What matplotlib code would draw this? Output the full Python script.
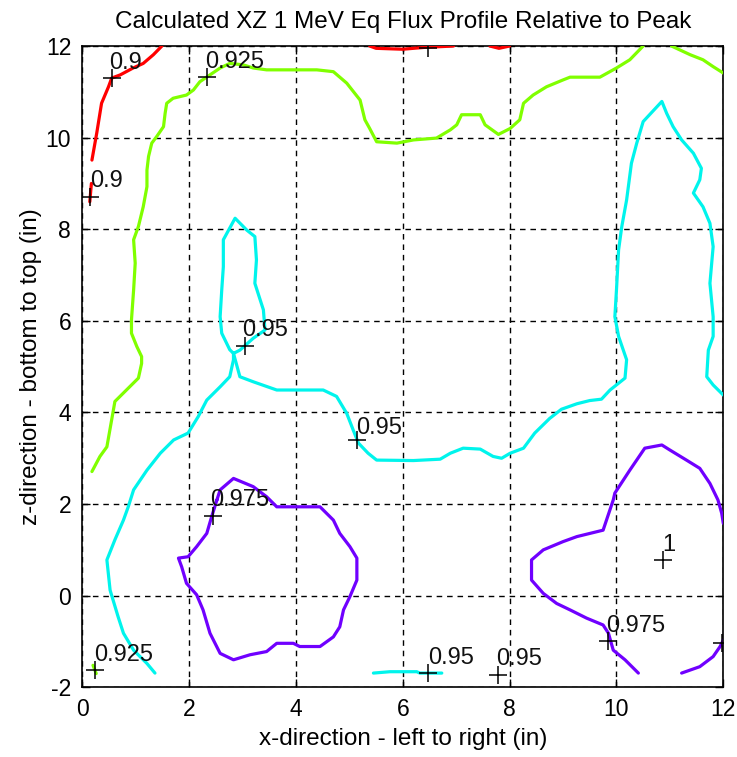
import numpy as np
import matplotlib.pyplot as plt

plt.rcParams['font.family'] = ['Liberation Sans', 'DejaVu Sans']
plt.rcParams['axes.unicode_minus'] = False

# contour level colours (hsv map over 0.9 .. 1.0)
level_colors = {0.9: '#ff0000', 0.925: '#80ff00', 0.95: '#00f4ec', 0.975: '#7000ff'}

# ---- contour traces (x, z in inches) ----
red_left = [(0.18, 9.51), (0.27, 10.10), (0.36, 10.75), (0.49, 11.11), (0.55, 11.30),
            (0.71, 11.37), (0.95, 11.52), (1.14, 11.62), (1.33, 11.81), (1.49, 12.0)]
red_dot = [(0.14, 8.60), (0.17, 9.0)]
red_top1 = [(5.38, 12.0), (5.5, 11.95), (6.0, 11.93), (6.4, 11.97), (6.95, 12.0)]
red_top2 = [(7.63, 12.0), (7.8, 11.95), (8.0, 12.0)]

green_main = [(0.18, 2.71), (0.33, 3.04), (0.46, 3.25), (0.61, 4.24), (1.05, 4.75),
              (1.11, 5.07), (1.11, 5.22), (1.02, 5.44), (0.92, 5.73), (0.92, 6.02),
              (0.96, 6.67), (0.99, 7.26), (0.96, 7.77), (1.05, 8.06), (1.14, 8.49),
              (1.21, 8.93), (1.21, 9.29), (1.24, 9.59), (1.30, 9.88), (1.39, 10.02),
              (1.52, 10.24), (1.55, 10.53), (1.58, 10.75), (1.70, 10.86), (1.95, 10.93),
              (2.08, 11.04), (2.20, 11.22), (2.39, 11.37), (2.58, 11.52), (2.76, 11.62),
              (3.01, 11.59), (3.20, 11.52), (3.45, 11.48), (4.39, 11.48), (4.70, 11.44),
              (4.95, 11.19), (5.20, 10.82), (5.29, 10.39), (5.38, 10.20), (5.51, 9.91),
              (5.89, 9.88), (6.20, 9.95), (6.63, 9.99), (6.89, 10.17), (7.01, 10.28),
              (7.10, 10.50), (7.45, 10.50), (7.54, 10.28), (7.79, 10.07), (8.01, 10.20),
              (8.19, 10.39), (8.26, 10.75), (8.44, 10.93), (8.69, 11.11), (9.00, 11.26),
              (9.13, 11.32), (9.69, 11.32), (10.00, 11.52), (10.25, 11.70), (10.50, 12.0)]
green_corner = [(11.03, 12.0), (11.38, 11.81), (11.62, 11.70), (11.81, 11.55), (12.0, 11.41)]
green_dot = [(0.20, -1.52), (0.26, -1.70)]

cyan_lower = [(1.36, -1.69), (1.21, -1.48), (0.96, -1.19), (0.77, -0.82), (0.67, -0.46),
              (0.52, 0.12), (0.46, 0.78), (0.61, 1.22), (0.77, 1.65), (0.86, 1.94),
              (0.96, 2.31), (1.21, 2.74), (1.46, 3.11), (1.71, 3.40), (1.98, 3.55),
              (2.17, 3.91), (2.33, 4.27), (2.58, 4.56), (2.76, 4.78), (2.83, 5.15),
              (2.83, 5.29)]
cyan_loop = [(2.83, 5.29), (2.76, 5.37), (2.61, 5.73), (2.58, 6.09), (2.61, 6.67),
             (2.64, 7.18), (2.64, 7.77), (2.86, 8.24), (3.08, 7.98), (3.23, 7.84),
             (3.26, 7.33), (3.23, 6.82), (3.39, 6.24), (3.42, 5.80), (3.20, 5.62),
             (2.95, 5.36), (2.83, 5.29)]
cyan_right = [(2.83, 5.29), (2.95, 4.78), (3.20, 4.67), (3.64, 4.49), (4.51, 4.49),
              (4.76, 4.35), (4.95, 3.98), (5.07, 3.62), (5.17, 3.33), (5.35, 3.11),
              (5.51, 2.96), (6.20, 2.95), (6.70, 2.98), (6.89, 3.11), (7.13, 3.22),
              (7.45, 3.20), (7.69, 3.04), (7.85, 3.00), (8.01, 3.11), (8.26, 3.22),
              (8.47, 3.55), (8.75, 3.87), (8.97, 4.07), (9.26, 4.19), (9.50, 4.26),
              (9.72, 4.29), (9.88, 4.49), (10.16, 4.75), (10.19, 5.15), (10.04, 5.66),
              (9.97, 6.09), (10.00, 6.67), (10.04, 7.55), (10.10, 8.06), (10.19, 8.64),
              (10.28, 9.44), (10.38, 9.88), (10.50, 10.35), (10.85, 10.79), (10.94, 10.53),
              (11.06, 10.24), (11.22, 9.95), (11.44, 9.66), (11.59, 9.33), (11.56, 9.08),
              (11.44, 8.79), (11.62, 8.49), (11.75, 8.13), (11.81, 7.62), (11.75, 6.82),
              (11.81, 6.09), (11.81, 5.66), (11.72, 5.36), (11.69, 4.78), (11.81, 4.60),
              (12.0, 4.38)]
cyan_bottom = [(5.45, -1.69), (5.76, -1.66), (6.26, -1.66), (6.32, -1.69), (6.73, -1.69)]

purple_left = [(2.52, 2.09), (2.58, 2.31), (2.83, 2.56), (3.20, 2.38), (3.45, 2.16),
               (3.64, 1.94), (4.45, 1.94), (4.70, 1.65), (4.82, 1.36), (5.01, 1.07),
               (5.14, 0.82), (5.14, 0.34), (5.01, -0.02), (4.89, -0.31), (4.82, -0.68),
               (4.70, -0.90), (4.45, -1.11), (4.07, -1.11), (3.95, -1.04), (3.64, -1.04),
               (3.45, -1.22), (3.14, -1.29), (2.83, -1.40), (2.58, -1.26), (2.39, -0.82),
               (2.26, -0.31), (2.14, 0.02), (1.95, 0.27), (1.86, 0.63), (1.80, 0.82),
               (1.98, 0.85), (2.14, 1.07), (2.33, 1.36), (2.42, 1.72), (2.52, 2.09)]
purple_right = [(10.41, -1.69), (10.16, -1.40), (9.94, -1.19), (9.85, -0.82), (9.75, -0.64),
                (9.44, -0.49), (9.13, -0.31), (8.88, -0.17), (8.63, 0.05), (8.41, 0.34),
                (8.41, 0.78), (8.63, 1.00), (9.00, 1.18), (9.26, 1.29), (9.75, 1.43),
                (9.94, 2.09), (9.97, 2.24), (10.25, 2.74), (10.53, 3.22), (10.85, 3.29),
                (11.00, 3.18), (11.31, 2.96), (11.56, 2.78), (11.75, 2.45), (11.90, 2.09),
                (11.97, 1.80), (12.0, 1.58)]
purple_corner = [(11.22, -1.69), (11.56, -1.55), (11.81, -1.33), (11.94, -1.11), (12.0, -0.97)]

segments = [
    (0.9, red_left), (0.9, red_dot), (0.9, red_top1), (0.9, red_top2),
    (0.925, green_main), (0.925, green_corner), (0.925, green_dot),
    (0.95, cyan_lower), (0.95, cyan_loop), (0.95, cyan_right), (0.95, cyan_bottom),
    (0.975, purple_left), (0.975, purple_right), (0.975, purple_corner),
]

# clabel markers (two of them sit on the frame and have their text clipped away)
mark_x = [0.55, 2.33, 0.14, 3.04, 5.14, 2.44, 0.24, 6.48, 7.79, 9.85, 10.88, 11.97, 6.48]
mark_y = [11.30, 11.32, 8.71, 5.44, 3.40, 1.74, -1.62, -1.69, -1.73, -1.00, 0.78, -1.04, 11.95]
# visible label texts
label_txt = ['0.9', '0.925', '0.9', '0.95', '0.95', '0.975', '0.925', '0.95', '0.95',
             '0.975', '1']
label_x = [0.51, 2.29, 0.15, 3.00, 5.12, 2.40, 0.23, 6.47, 7.75, 9.81, 10.86]
label_y = [11.64, 11.66, 9.06, 5.80, 3.67, 2.09, -1.30, -1.35, -1.38, -0.66, 1.11]

fig = plt.figure(figsize=(7.37, 7.57), dpi=100)
ax = fig.add_axes([0.1117, 0.0921, 0.8697, 0.8471])

for lev, seg in segments:
    xs, ys = zip(*seg)
    ax.plot(xs, ys, color=level_colors[lev], lw=2.3, solid_capstyle='round', zorder=3)

ax.plot(mark_x, mark_y, '+', color='black', ms=13, mew=1.1, zorder=4, clip_on=True)
for tx, ty, s in zip(label_x, label_y, label_txt):
    ax.text(tx, ty, s, ha='left', va='center', fontsize=17, color='#111111', zorder=5)

ax.set_xlim(0, 12)
ax.set_ylim(-2, 12)
ax.set_xticks(np.arange(0, 13, 2))
ax.set_yticks(np.arange(-2, 13, 2))
ax.grid(True, color='black', linestyle=(0, (4, 3.5)), linewidth=1.0)
ax.tick_params(direction='in', length=6, width=1, labelsize=16.5, pad=8,
               top=True, right=True)
for sp in ax.spines.values():
    sp.set_linewidth(1.2)

ax.set_title('Calculated XZ 1 MeV Eq Flux Profile Relative to Peak', fontsize=17.5, pad=13)
ax.set_xlabel('x-direction - left to right (in)', fontsize=17.5, labelpad=5)
ax.set_ylabel('z-direction - bottom to top (in)', fontsize=17.5, labelpad=3)

plt.savefig('out.png', dpi=100)
